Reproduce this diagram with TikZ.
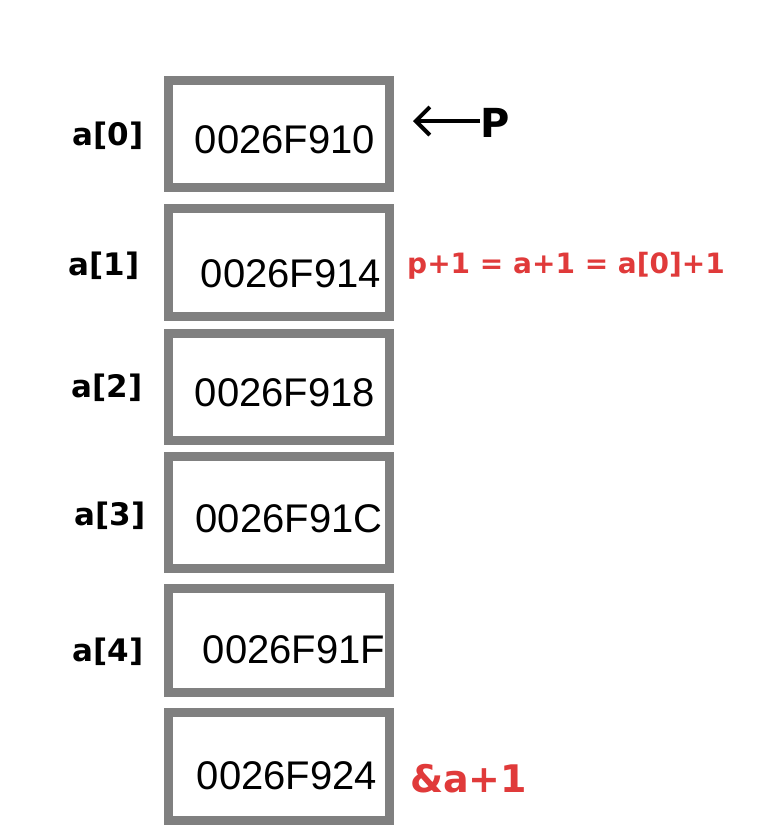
\documentclass[tikz,border=0pt]{standalone}
\usepackage{fontspec}
\setmainfont{Liberation Sans}
\newfontfamily\labelfont{DejaVu Sans}
\usetikzlibrary{arrows.meta}
\definecolor{cellgray}{RGB}{128,128,128}
\definecolor{notered}{RGB}{224,58,58}
\tikzset{
	cell/.style={draw=cellgray, line width=9pt, minimum width=221pt, inner sep=0pt},
	addr/.style={font=\fontsize{40}{40}\selectfont},
	idx/.style={font=\labelfont\bfseries\fontsize{31}{31}\selectfont},
	note/.style={text=notered, font=\labelfont\bfseries\fontsize{28}{28}\selectfont},
}

\begin{document}
\begin{tikzpicture}[x=1pt,y=-1pt]
	\useasboundingbox[fill=white] (0,0) rectangle (758,828);

	%cells and addresses
	\foreach \n/\top/\bot/\tx/\ty/\addr in {0/80/187/285/140/0026F910, 1/208/316/291/274/0026F914, 2/333/440/285/393/0026F918, 3/456/568/289/519/0026F91C, 4/588/692/294/650/0026F91F, 5/712/820/287/776/0026F924}{
		\pgfmathsetmacro\h{\bot-\top}
		\pgfmathsetmacro\cy{(\top+\bot)/2}
		\node[cell, minimum height=\h pt] (cell\n) at (278.5,\cy) {};
		\node[addr] (addr\n) at (\tx,\ty) {\addr};
	}

	%index labels
	\foreach \n/\lx/\ly in {0/108/136, 1/104/266, 2/107/388, 3/110/516, 4/108/652}{
		\node[idx] (idx\n) at (\lx,\ly) {a[\n]};
	}

	%pointer
	\node[anchor=base west, inner sep=0pt, font=\labelfont\bfseries\fontsize{40}{40}\selectfont] (ptr) at (480,137) {P};
	\coordinate (ptrtip) at (413,121);
	\draw[line width=4pt, -{Straight Barb[length=14pt,width=28pt]}] (ptr.west |- ptrtip) -- (ptrtip);

	%notes
	\node[note, anchor=base west, inner sep=0pt] (step) at (407,273) {p+1 = a+1 = a[0]+1};
	\node[note, anchor=base west, inner sep=0pt, font=\labelfont\bfseries\fontsize{38}{38}\selectfont] (past) at (410,792) {\&a+1};

\end{tikzpicture}
\end{document}
